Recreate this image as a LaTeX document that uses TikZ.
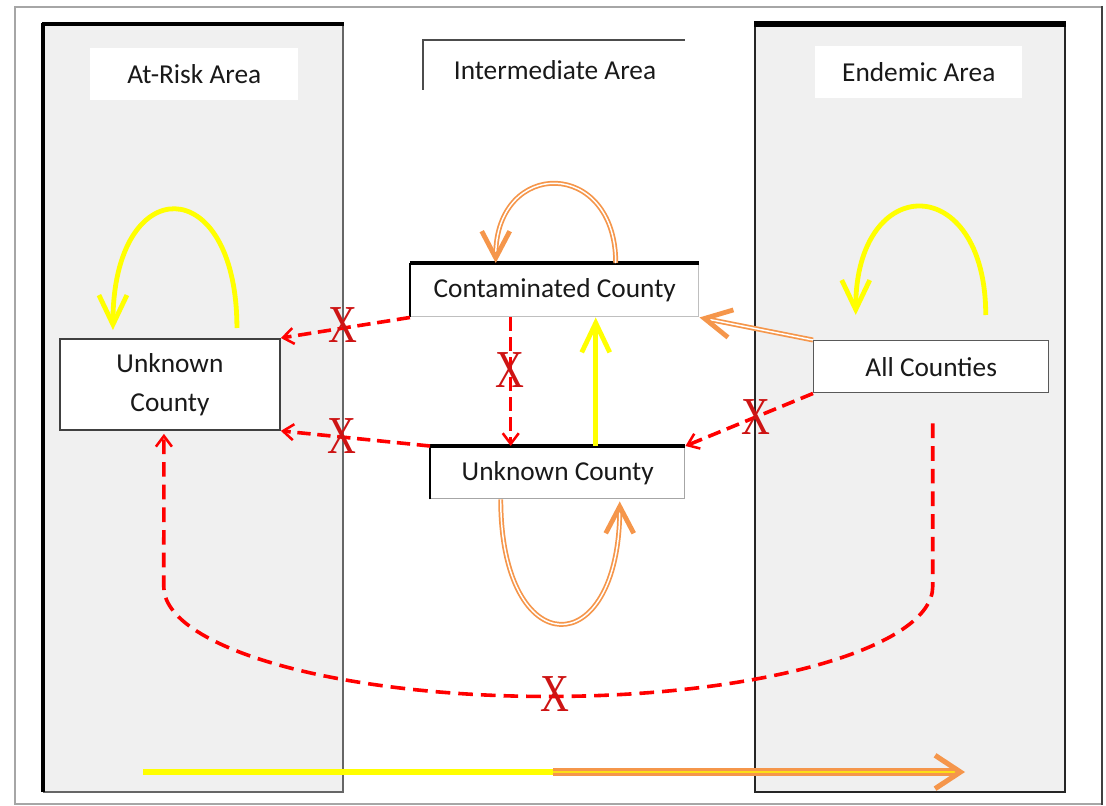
\documentclass[tikz,border=0pt]{standalone}
\usepackage{graphicx}
\usepackage{fontspec}
\setmainfont{Carlito}
\newfontfamily\xfont{Liberation Serif}
\usetikzlibrary{arrows.meta,calc}
\definecolor{panelgray}{RGB}{240,240,240}
\definecolor{orng}{RGB}{245,150,75}
\definecolor{ylw}{RGB}{255,255,0}
\definecolor{rd}{RGB}{255,0,0}
\definecolor{xred}{RGB}{205,20,20}
\definecolor{txt}{RGB}{25,25,25}
\begin{document}
\begin{tikzpicture}[x=0.75pt,y=-0.75pt,
 box/.style={draw=black!70,line width=1.1pt,fill=white,anchor=north west,inner sep=0pt,text=txt,font=\fontsize{20.5}{29}\selectfont,align=center},
 lbl/.style={fill=white,anchor=north west,inner sep=0pt,text=txt,font=\fontsize{20.5}{24}\selectfont},
 ylwarrow/.style={draw=ylw,line width=3.6pt,-{Straight Barb[length=22pt,width=21pt,line width=3.6pt]}},
 orngarrow/.style={draw=orng,line width=1.3pt,double=white,double distance=1.1pt,-{Straight Barb[length=20pt,width=21pt,line width=3.6pt]}},
 reddash/.style={draw=rd,line width=2.7pt,dash pattern=on 10pt off 5pt,-{Straight Barb[length=8pt,width=12pt,line width=1.9pt]}},
 xmark/.style={text=xred,font=\xfont\fontsize{40}{40}\selectfont,inner sep=0pt}
]
\useasboundingbox (0,0) rectangle (1106,806);
% outer frame
\draw[gray!70,line width=1.2pt] (1102,7) -- (15,7) -- (15,804) -- (1102,804);
\draw[black!75,line width=2.2pt] (1102,6) -- (1102,805);
% left panel
\fill[panelgray] (43,23) rectangle (343,792);
\draw[gray!80!black,line width=1.2pt] (343,23) -- (343,792) -- (43,792);
\draw[black,line width=2.4pt] (43,792) -- (43,23);
\draw[black,line width=3.4pt] (42,24) -- (344,24);
% right panel
\fill[panelgray] (755,23) rectangle (1065,792);
\draw[black!85,line width=2.2pt] (755,23) rectangle (1065,792);
\draw[black,line width=3.8pt] (754,24) -- (1066,24);
% intermediate label frame
\draw[gray!60!black,line width=1pt] (423,90) -- (423,40) -- (685,40);
% labels
\node[lbl,minimum width=156pt,minimum height=39pt] (ar) at (90,48) {At-Risk Area};
\node[lbl,minimum width=155.25pt,minimum height=39pt] (ea) at (815,46) {Endemic Area};
\node[text=txt,font=\fontsize{20.5}{24}\selectfont,inner sep=0pt] (ia) at (555,70) {Intermediate Area};
% boxes
\node[box,draw=black!75,line width=1.4pt,minimum width=165pt,minimum height=68.25pt] (L) at (59,338) {Unknown\\County};
\node[box,draw=gray!50,minimum width=216pt,minimum height=39.75pt] (C) at (410,263) {Contaminated County};
\draw[black,line width=1.6pt] (C.south west) -- (C.north west);
\draw[black,line width=2.4pt] (C.north west) -- (C.north east);
\node[box,draw=gray!70,minimum width=190.5pt,minimum height=39pt] (M) at (430,446) {Unknown County};
\draw[black,line width=1.6pt] (M.south west) -- (M.north west);
\draw[black,line width=2.4pt] (M.north west) -- (M.north east);
\node[box,draw=black!65,minimum width=176.25pt,minimum height=39pt] (A) at (813,340) {All Counties};
% yellow self loops
\draw[ylwarrow] ($(L.north)+(67,-10)$) .. controls ($(L.north)+(67,-168)$) and ($(L.north)+(-57,-168)$) .. ($(L.north)+(-57,-8)$);
\draw[ylwarrow] ($(A.north)+(54.5,-25)$) .. controls ($(A.north)+(54.5,-169)$) and ($(A.north)+(-75.5,-169)$) .. ($(A.north)+(-75.5,-25)$);
% orange self loops
\draw[orngarrow] ($(C.north)+(61,0)$) .. controls ($(C.north)+(61,-105)$) and ($(C.north)+(-59,-105)$) .. ($(C.north)+(-59,0)$);
\draw[orngarrow] ($(M.south)+(-57,0)$) .. controls ($(M.south)+(-57,165)$) and ($(M.south)+(62,165)$) .. ($(M.south)+(62,2)$);
% yellow straight arrow
\draw[ylwarrow] ($(M.north)+(38,0)$) -- ($(C.south)+(41,0)$);
% orange straight arrow
\draw[orngarrow] (A.north west) -- (C.south east);
% red dashed connectors
\draw[reddash] (C.south west) -- (L.north east);
\draw[reddash] (M.north west) -- (L.south east);
\draw[reddash,line width=2.1pt] ($(C.south)+(-44,0)$) -- ($(M.north)+(-47,0)$);
\draw[reddash] (A.south west) -- (M.north east);
\draw[reddash,dash pattern=on 11pt off 6pt] ($(A.south)+(1.5,30)$) -- ++(0,163) arc[start angle=0,end angle=180,x radius=384.5,y radius=110] -- ($(L.south)+(-6,3)$);
% bottom arrow
\coordinate (b1) at (143,772);
\coordinate (b2) at (553,772);
\coordinate (b3) at (965,772);
\draw[ylw,line width=5.2pt] (b1) -- (b2);
\draw[orng,line width=1.9pt,double=ylw!70!orng,double distance=1.5pt,-{Straight Barb[length=19pt,width=25pt,line width=3.8pt]}] (b2) -- (b3);
% X marks
\node[xmark] (x1) at (343,325) {\scalebox{0.75}[1]{X}};
\node[xmark] (x2) at (342,436) {\scalebox{0.75}[1]{X}};
\node[xmark] (x3) at (510,370) {\scalebox{0.75}[1]{X}};
\node[xmark] (x4) at (756,417) {\scalebox{0.75}[1]{X}};
\node[xmark] (x5) at (555,694) {\scalebox{0.75}[1]{X}};
\end{tikzpicture}
\end{document}
